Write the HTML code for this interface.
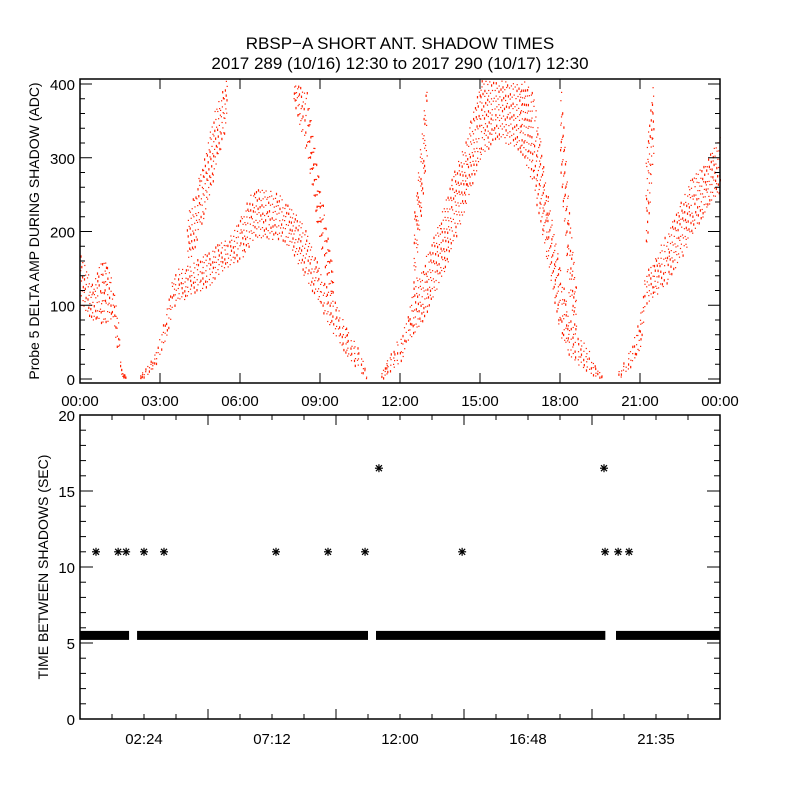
<!DOCTYPE html>
<html><head><meta charset="utf-8"><style>
body{margin:0;background:#fff}
svg{display:block}
text{font-family:"Liberation Sans",sans-serif;fill:#000}
</style></head><body>
<svg id="c" width="800" height="800" viewBox="0 0 800 800">
<rect width="800" height="800" fill="#fff"/>
<text x="400" y="49" font-size="17" text-anchor="middle">RBSP−A SHORT ANT. SHADOW TIMES</text>
<text x="400" y="69" font-size="17" text-anchor="middle">2017 289 (10/16) 12:30 to 2017 290 (10/17) 12:30</text>
<g id="topPanel"></g>
<g id="botPanel"></g>
</svg>
<script>
// ---- Top panel data (hours, amplitude envelopes) ----
const times = [0,0.5,0.75,0.95,1.2,1.4,1.55,1.7,2.25,2.5,2.75,3,3.25,3.5,4,4.5,5,5.5,6,6.5,7,7.5,8,8.5,9,9.5,10,10.5,10.75,11.25,11.5,12,12.25,12.5,13,13.5,14,14.5,15,15.5,16,16.5,17,17.5,18,18.3,18.6,19,19.3,19.6,20.15,20.5,20.8,21,21.2,21.5,22,22.5,23,23.5,24];
const lowA  = [100,80,70,75,80,40,5,0,0,5,15,30,60,100,110,120,130,150,160,190,190,190,170,130,100,60,30,10,0,0,5,20,40,60,90,130,180,240,300,320,320,310,260,160,60,30,20,10,5,0,0,10,20,40,100,110,130,160,200,230,250];
const highA = [175,130,160,165,140,90,10,5,5,20,30,60,100,150,150,170,180,190,220,260,260,250,230,200,150,110,70,40,5,10,25,60,80,130,170,220,280,330,410,410,410,410,390,260,150,90,60,50,20,3,10,30,60,90,150,160,200,240,280,300,330];
const lowB  = [null,null,null,null,null,null,null,null,null,null,null,null,null,null,150,200,270,350,null,null,null,null,380,300,180,100,null,null,null,null,null,null,null,120,300,null,null,null,null,null,null,null,null,null,280,120,60,null,null,null,null,null,null,null,150,300,null,null,null,null,null];
const highB = [null,null,null,null,null,null,null,null,null,null,null,null,null,null,220,280,360,410,null,null,null,null,410,390,260,150,null,null,null,null,null,null,null,220,410,null,null,null,null,null,null,null,null,null,410,250,130,null,null,null,null,null,null,null,300,410,null,null,null,null,null];
const topXTicks = ["00:00","03:00","06:00","09:00","12:00","15:00","18:00","21:00","00:00"];
const topYTicks = [0,100,200,300,400];

// ---- Bottom panel data ----
const segStart = [0,2.14,11.1,20.1];
const segEnd   = [1.84,10.8,19.7,24];
const segValue = 5.5;
const starH = [0.6,1.43,1.73,2.4,3.15,7.35,9.3,10.69,14.33,19.69,20.18,20.59,11.21,19.65];
const starV = [11,11,11,11,11,11,11,11,11,11,11,11,16.5,16.5];
const botXTicks = ["02:24","07:12","12:00","16:48","21:35"];
const botYTicks = [0,5,10,15,20];

const NS="http://www.w3.org/2000/svg";
function mk(p,tag,at){const e=document.createElementNS(NS,tag);for(const k in at)e.setAttribute(k,at[k]);p.appendChild(e);return e;}
const L=80,R=720;
const xs=h=>L+h/24*(R-L);
// top
const T0=79,T1=383;
const yT=v=>379-v*0.7375;
const topG=document.getElementById('topPanel');
const dots=mk(topG,'g',{fill:'#ff2000'});


let k=0;
function band(lo,hi){
  for(let i=0;i<times.length-1;i++){
    if(lo[i]==null||lo[i+1]==null)continue;
    if(times[i+1]-times[i]>=0.45&&hi[i]<=10&&hi[i+1]<=10)continue;
    const x0=xs(times[i]),x1=xs(times[i+1]);
    const area=(x1-x0)*Math.abs(((hi[i]+hi[i+1])-(lo[i]+lo[i+1]))/2*0.7375);
    const n=Math.max(10,Math.round(area/14));
    for(let j=0;j<n;j++){
      k++;
      const fx=(0.5+k*0.7548776662)%1, fy=(0.5+k*0.5698402910)%1;
      const l=lo[i]+(lo[i+1]-lo[i])*fx, h=hi[i]+(hi[i+1]-hi[i])*fx;
      const v=l+(h-l)*fy;
      const y=yT(v); if(y<T0+1)continue;
      mk(dots,'rect',{x:(x0+(x1-x0)*fx).toFixed(1),y:y.toFixed(1),width:1.2,height:(k%3?1.2:2.4)});
    }
  }
}
band(lowA,highA);band(lowB,highB);
mk(topG,'rect',{x:L,y:T0,width:R-L,height:T1-T0,fill:'none',stroke:'#000','stroke-width':1.5});
topXTicks.forEach((t,i)=>{const x=xs(i*3);
  if(i>0&&i<8){mk(topG,'line',{x1:x,x2:x,y1:T1,y2:T1-10,stroke:'#000'});mk(topG,'line',{x1:x,x2:x,y1:T0,y2:T0+10,stroke:'#000'});}
  const tx=mk(topG,'text',{x:x,y:406,'font-size':15,'text-anchor':'middle'});tx.textContent=t;
  });
for(let v=0;v<=400;v+=20){const y=yT(v);const len=v%100?5:12;
  mk(topG,'line',{x1:L,x2:L+len,y1:y,y2:y,stroke:'#000'});mk(topG,'line',{x1:R,x2:R-len,y1:y,y2:y,stroke:'#000'});}
topYTicks.forEach(v=>{const tx=mk(topG,'text',{x:75,y:yT(v)+6,'font-size':15,'text-anchor':'end'});tx.textContent=v;
  });
const yt=mk(topG,'text',{x:0,y:0,'font-size':14,'text-anchor':'middle',transform:'translate(39,231) rotate(-90)'});
yt.textContent='Probe 5 DELTA AMP DURING SHADOW (ADC)';

// bottom
const B0=415,B1=719;
const yB=v=>B1-v*(B1-B0)/20;
const botG=document.getElementById('botPanel');
segStart.forEach((s,i)=>{const r=mk(botG,'rect',{x:xs(s),y:yB(segValue)-4.5,width:xs(segEnd[i])-xs(s),height:9,fill:'#000'});
  });
starH.forEach((h,i)=>{const x=xs(h),y=yB(starV[i]);const g=mk(botG,'g',{stroke:'#000','stroke-width':1.2});
  
  mk(g,'line',{x1:x-4,x2:x+4,y1:y,y2:y});mk(g,'line',{x1:x,x2:x,y1:y-4,y2:y+4});
  mk(g,'line',{x1:x-3,x2:x+3,y1:y-3,y2:y+3});mk(g,'line',{x1:x-3,x2:x+3,y1:y+3,y2:y-3});});
mk(botG,'rect',{x:L,y:B0,width:R-L,height:B1-B0,fill:'none',stroke:'#000','stroke-width':1.5});
for(let i=1;i<20;i++){const x=xs(i*1.2);const len=i%4?5:10;
  mk(botG,'line',{x1:x,x2:x,y1:B1,y2:B1-len,stroke:'#000'});mk(botG,'line',{x1:x,x2:x,y1:B0,y2:B0+len,stroke:'#000'});}
botXTicks.forEach((t,i)=>{const tx=mk(botG,'text',{x:xs((i+0.5)*4.8),y:744,'font-size':15,'text-anchor':'middle'});tx.textContent=t;
  });
for(let v=0;v<=20;v++){const y=yB(v);const len=v%5?6:13;
  mk(botG,'line',{x1:L,x2:L+len,y1:y,y2:y,stroke:'#000'});mk(botG,'line',{x1:R,x2:R-len,y1:y,y2:y,stroke:'#000'});}
botYTicks.forEach(v=>{const tx=mk(botG,'text',{x:75,y:yB(v)+6,'font-size':15,'text-anchor':'end'});tx.textContent=v;
  });
const bt=mk(botG,'text',{x:0,y:0,'font-size':14,'text-anchor':'middle',transform:'translate(48,567) rotate(-90)'});
bt.textContent='TIME BETWEEN SHADOWS (SEC)';

</script>
</body></html>
